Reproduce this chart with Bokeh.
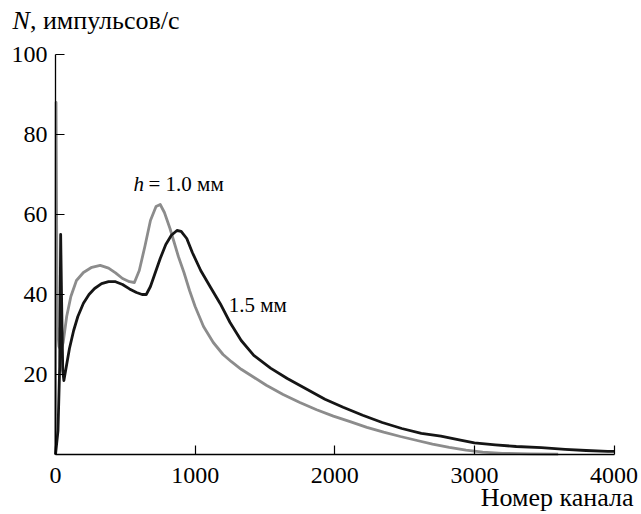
from bokeh.plotting import figure
from bokeh.models import Range1d, FixedTicker, Label
from bokeh.embed import file_html
from bokeh.resources import INLINE

# h = 1.0 mm (gray)
ch_10 = [0, 4, 8, 14, 25, 40, 55, 80, 110, 150, 200, 260, 320, 380, 430, 480, 530, 565,
         600, 640, 680, 720, 750, 780, 820, 850, 880, 920, 960, 1000, 1060, 1130, 1200,
         1260, 1330, 1420, 1510, 1630, 1750, 1870, 1990, 2110, 2230, 2350, 2470, 2590,
         2700, 2820, 2940, 3060, 3200, 3400, 3600]
n_10 = [0, 88, 58, 32, 27, 26, 28, 34.5, 39.5, 43.5, 45.5, 46.8, 47.3, 46.6, 45.4, 44,
        43.2, 43, 46, 52, 58.5, 62, 62.5, 60.5, 56.5, 53, 49.5, 45.5, 41, 37, 32, 28, 25,
        23.2, 21.3, 19.3, 17.3, 15, 13, 11.2, 9.6, 8.2, 6.8, 5.6, 4.5, 3.5,
        2.6, 1.8, 1.1, 0.6, 0.3, 0.15, 0.1]

# h = 1.5 mm (black)
ch_15 = [0, 18, 30, 37, 44, 52, 60, 80, 100, 130, 160, 200, 240, 280, 330, 380, 430, 480,
         530, 580, 620, 650, 680, 710, 750, 790, 830, 870, 900, 940, 980, 1040, 1110, 1180,
         1250, 1330, 1420, 1540, 1660, 1800, 1930, 2060, 2200, 2340, 2480, 2620, 2760,
         2900, 3000, 3150, 3300, 3480, 3650, 3800, 3955, 4000]
n_15 = [0, 6, 22, 55, 38, 21, 18.5, 22.5, 26.5, 31, 34.5, 37.8, 40, 41.5, 42.7, 43.2, 43.2,
        42.5, 41.4, 40.5, 40, 40, 42, 45, 49, 52.5, 54.8, 56, 55.8, 54, 50.5, 46, 41.8, 37.7,
        33, 28.5, 24.8, 21.6, 19, 16.3, 13.8, 11.8, 9.8, 8, 6.5, 5.3, 4.6,
        3.6, 2.9, 2.4, 2.0, 1.7, 1.3, 1.0, 0.8, 0.8]

x_ticks = [0, 1000, 2000, 3000, 4000]
y_ticks = [20, 40, 60, 80, 100]

FONT = "Liberation Serif"

p = figure(width=641, height=514, output_backend="svg", toolbar_location=None,
           x_range=Range1d(-393.9, 4196.8), y_range=Range1d(-15, 113.5),
           min_border=0, min_border_left=0, min_border_right=0,
           min_border_top=0, min_border_bottom=0)
p.outline_line_color = None
p.xgrid.visible = False
p.ygrid.visible = False
p.background_fill_color = "white"
p.border_fill_color = "white"

p.line(ch_10, n_10, line_color="#8c8c8c", line_width=2.8, line_join="round")
p.line(ch_15, n_15, line_color="#151515", line_width=2.8, line_join="round")

for ax, ticks, bnds in ((p.xaxis, x_ticks, (0, 4000)), (p.yaxis, y_ticks, (0, 100))):
    ax.ticker = FixedTicker(ticks=ticks)
    ax.fixed_location = 0
    ax.bounds = bnds
    ax.major_tick_in = 9
    ax.major_tick_out = 0
    ax.minor_tick_in = 0
    ax.minor_tick_out = 0
    ax.axis_line_color = "black"
    ax.axis_line_width = 1.3
    ax.major_tick_line_color = "black"
    ax.major_tick_line_width = 1.2
    ax.major_label_text_font = FONT
    ax.major_label_text_font_size = "24px"
    ax.major_label_text_color = "black"
p.yaxis.major_label_standoff = 8
p.xaxis.major_label_standoff = 13

def lab(x, y, text, size, style="normal", align="left"):
    p.add_layout(Label(x=x, y=y, text=text, text_font=FONT, text_font_size=size,
                       text_font_style=style, text_align=align, text_baseline="alphabetic",
                       text_color="black"))

# axis titles
lab(-308, 108.4, "N", "26px", "italic")
lab(-183, 108.4, ", импульсов/с", "26px")
lab(4140, -10.8, "Номер канала", "26px", align="right")

# curve annotations
lab(559, 67.7, "h", "21px", "italic")
lab(666, 67.7, "= 1.0 мм", "21px")
lab(1241, 37.3, "1.5 мм", "21px")

open("out.html", "w").write(file_html(p, INLINE))
